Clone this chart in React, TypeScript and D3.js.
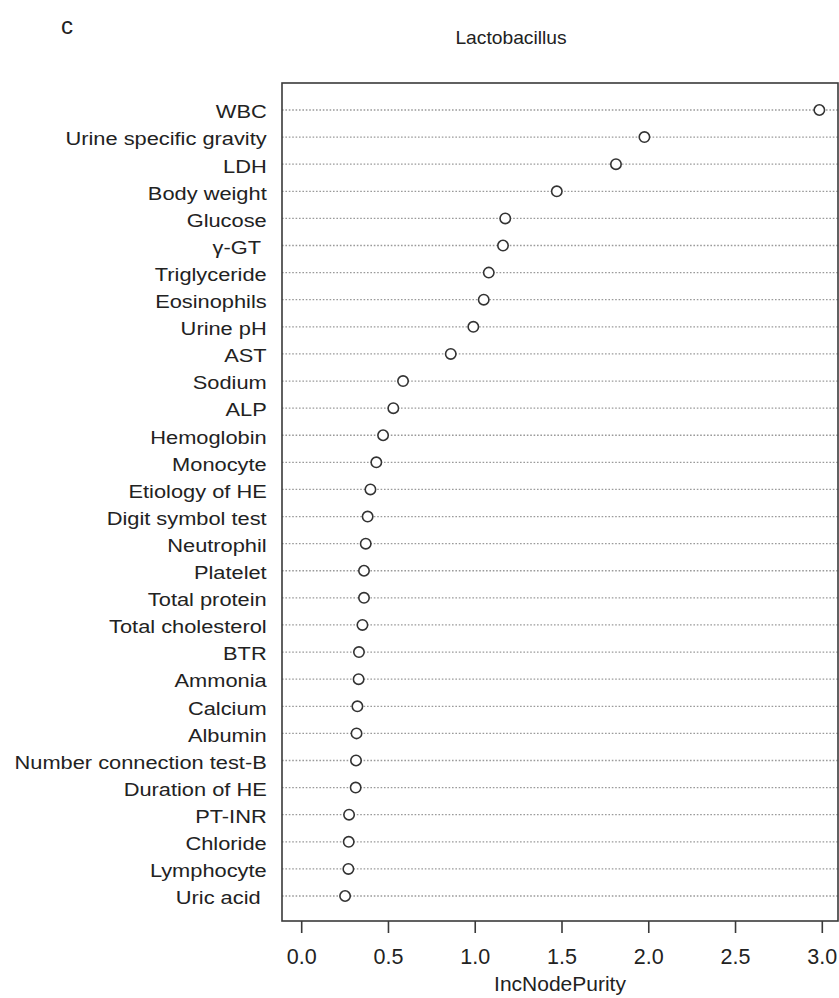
import React from "react";
import * as d3 from "d3";

// Variable importance (IncNodePurity) from the random forest, top to bottom
const variables: string[] = [
  "WBC",
  "Urine specific gravity",
  "LDH",
  "Body weight",
  "Glucose",
  "γ-GT ",
  "Triglyceride",
  "Eosinophils",
  "Urine pH",
  "AST",
  "Sodium",
  "ALP",
  "Hemoglobin",
  "Monocyte",
  "Etiology of HE",
  "Digit symbol test",
  "Neutrophil",
  "Platelet",
  "Total protein",
  "Total cholesterol",
  "BTR",
  "Ammonia",
  "Calcium",
  "Albumin",
  "Number connection test-B",
  "Duration of HE",
  "PT-INR",
  "Chloride",
  "Lymphocyte",
  "Uric acid ",
];

const purity: number[] = [
  2.983, 1.975, 1.811, 1.47, 1.173, 1.16, 1.078, 1.049, 0.989, 0.859,
  0.584, 0.528, 0.469, 0.43, 0.396, 0.38, 0.369, 0.359, 0.359, 0.35,
  0.33, 0.328, 0.321, 0.316, 0.313, 0.311, 0.273, 0.271, 0.269, 0.25,
];

const xTicks: number[] = [0, 0.5, 1, 1.5, 2, 2.5, 3];

const panelLetter = "c";
const chartTitle = "Lactobacillus";
const xTitle = "IncNodePurity";

export default function App() {
  const width = 839;
  const height = 998;
  const box = { left: 282, right: 838, top: 83, bottom: 921 };

  const x = d3.scaleLinear().domain([0, 3]).range([301.7, 822.3]);
  const y = d3
    .scaleLinear()
    .domain([0, variables.length - 1])
    .range([110, 896]);

  const font = "'Liberation Sans', Arial, Helvetica, sans-serif";
  const ink = "#222";

  return (
    <svg
      width={width}
      height={height}
      style={{ position: "absolute", left: 0, top: 0, background: "#fff" }}
      fontFamily={font}
    >
      <rect x={0} y={0} width={width} height={height} fill="#fff" />
      <text x={61} y={34} fontSize={24} fill={ink}>
        {panelLetter}
      </text>
      <text
        transform={`translate(511,44) scale(1.1,1)`}
        fontSize={17.5}
        fill={ink}
        textAnchor="middle"
      >
        {chartTitle}
      </text>

      {/* dotted guide lines */}
      {variables.map((v, i) => (
        <line
          key={"g" + i}
          x1={box.left}
          x2={box.right}
          y1={y(i)}
          y2={y(i)}
          stroke="#9a9a9a"
          strokeWidth={1.3}
          strokeDasharray="1.6 1.8"
        />
      ))}

      {/* row labels */}
      {variables.map((v, i) => (
        <text
          key={"l" + i}
          transform={`translate(${266.7},${y(i) + 8.3}) scale(1.18,1)`}
          textAnchor="end"
          fontSize={18.5}
          fill={ink}
          style={{ whiteSpace: "pre" }}
        >
          {v}
        </text>
      ))}

      {/* points */}
      {purity.map((p, i) => (
        <circle
          key={"p" + i}
          cx={x(p)}
          cy={y(i)}
          r={5.2}
          fill="#fff"
          stroke="#333"
          strokeWidth={1.6}
        />
      ))}

      {/* frame */}
      <rect
        x={box.left}
        y={box.top}
        width={box.right - box.left}
        height={box.bottom - box.top}
        fill="none"
        stroke="#3a3a3a"
        strokeWidth={1.6}
      />

      {/* x axis */}
      {xTicks.map((t) => (
        <g key={"t" + t}>
          <line
            x1={x(t)}
            x2={x(t)}
            y1={box.bottom}
            y2={box.bottom + 12}
            stroke="#3a3a3a"
            strokeWidth={1.6}
          />
          <text
            x={x(t)}
            y={964}
            fontSize={21.5}
            fill={ink}
            textAnchor="middle"
          >
            {d3.format(".1f")(t)}
          </text>
        </g>
      ))}
      <text
        x={(box.left + box.right) / 2}
        y={991}
        fontSize={21}
        fill={ink}
        textAnchor="middle"
      >
        {xTitle}
      </text>
    </svg>
  );
}
